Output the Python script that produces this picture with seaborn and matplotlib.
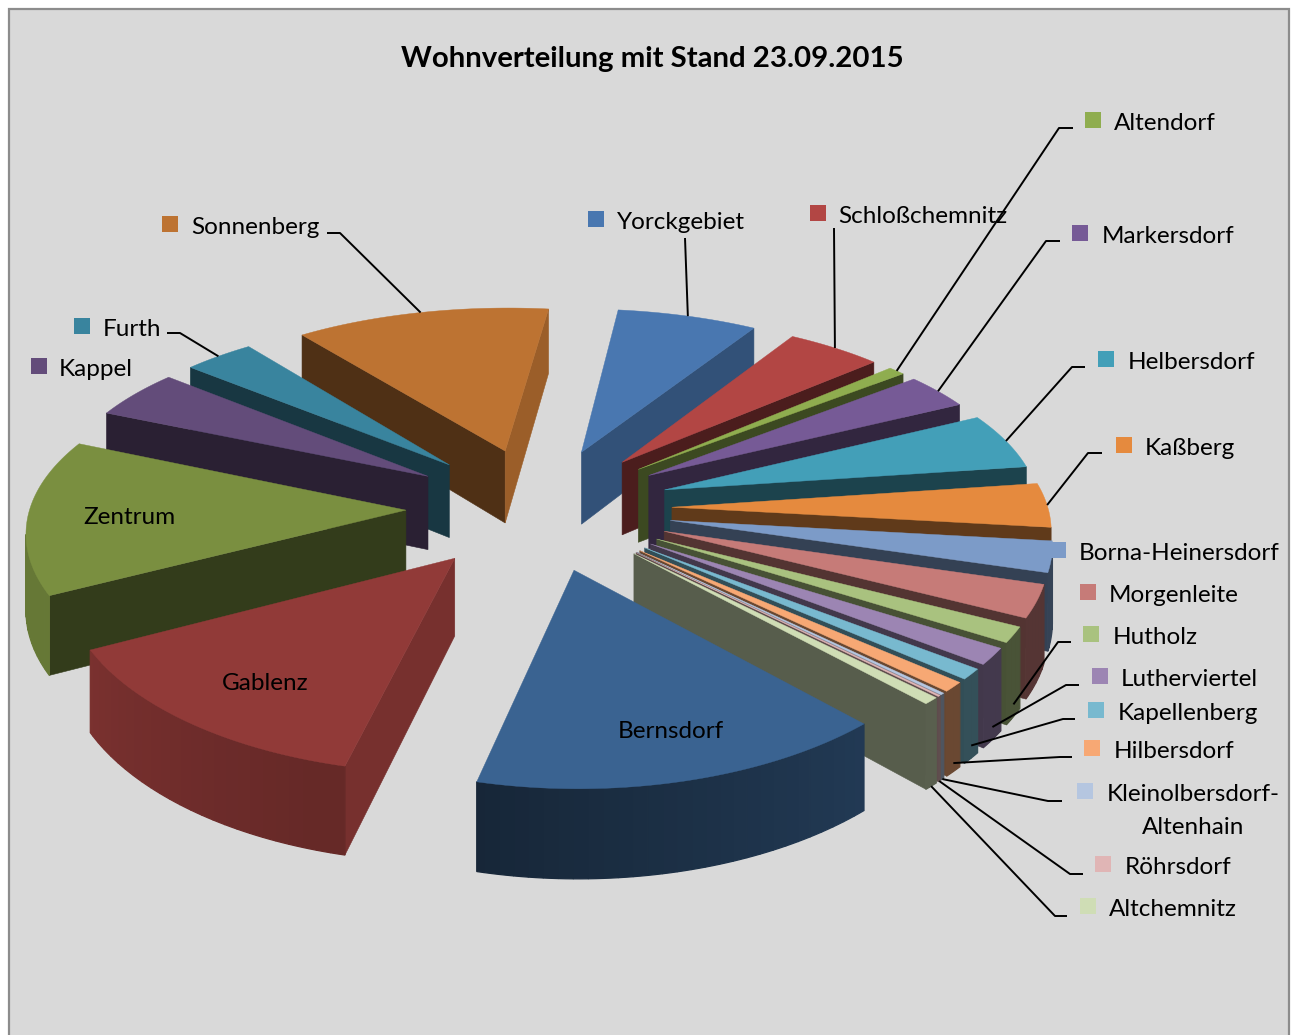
import numpy as np
import matplotlib
matplotlib.use('Agg')
import matplotlib.pyplot as plt
from matplotlib.colors import to_rgb
from matplotlib.patches import Rectangle
import seaborn as sns

# Werte aus dem Bild geschaetzt (Anteil in %), im Uhrzeigersinn ab oben
names = ['Yorckgebiet', 'Schloßchemnitz', 'Altendorf', 'Markersdorf', 'Helbersdorf', 'Kaßberg',
         'Borna-Heinersdorf', 'Morgenleite', 'Hutholz', 'Lutherviertel', 'Kapellenberg', 'Hilbersdorf',
         'Kleinolbersdorf-\nAltenhain', 'Röhrsdorf', 'Altchemnitz', 'Bernsdorf', 'Gablenz', 'Zentrum',
         'Kappel', 'Furth', 'Sonnenberg']
values = [6.81, 4.67, 0.83, 3.31, 5.22, 4.03, 2.78, 2.92, 1.39, 1.47, 0.94, 0.86, 0.17, 0.11, 0.61,
          15.69, 13.61, 14.17, 4.58, 3.47, 12.36]
colors = ['#4977B0', '#B24644', '#8FAD4F', '#765A96', '#439FB8', '#E58A3E', '#7C9BC8', '#C67B78',
          '#A9C27F', '#9C85B3', '#78B9CF', '#F7A874', '#B5C6E0', '#E0B5B5', '#CFDDB5', '#3A6391',
          '#913A38', '#7A8F40', '#634C7A', '#39849E', '#BD7332']

# Beschriftung: Position des Kaestchens, Textanfang, Leader-Knick
key_pos = [(596, 219), (818, 213), (1093, 120), (1080, 233), (1106, 359), (1124, 445), (1058, 550),
           (1088, 592), (1091, 634), (1100, 676), (1096, 710), (1092, 748), (1085, 791), (1103, 864),
           (1088, 906), (597, 728), (205, 680), (62, 514), (39, 366), (82, 326), (170, 224)]
text_x = [617, 838, 1114, 1102, 1128, 1145, 1079, 1109, 1113, 1121, 1118, 1114, 1107, 1125, 1109, 618, 222,
          83, 59, 103, 191]
leaders = {0: [(685, 238)], 1: [(834, 228)], 2: [(1059, 128), (1073, 128)], 3: [(1046, 241), (1060, 241)],
           4: [(1072, 367), (1085, 367)], 5: [(1088, 453), (1102, 453)], 8: [(1058, 642), (1071, 642)],
           9: [(1066, 685), (1079, 685)], 10: [(1063, 719), (1075, 719)], 11: [(1060, 757), (1072, 757)],
           12: [(1048, 801), (1062, 801)], 13: [(1070, 874), (1083, 874)], 14: [(1055, 916), (1067, 916)],
           19: [(180, 333), (167, 333)], 20: [(340, 233), (327, 233)]}
leader_depth = {8: 0.85, 9: 0.85, 10: 0.85, 11: 0.9, 12: 1.0, 13: 1.0, 14: 1.0}

START = 7.0
CX, CY = 539, 508
R = 376
SQUASH = 0.463
PERSP_X = 0.10
PERSP_Y = 0.125
EXPLODE = 133
DEPTH = 75

sns.set_theme(style='white')
plt.rcParams['font.family'] = ['Lato', 'DejaVu Sans']


def project(x, y, z):
    fx = 1 / (1 + PERSP_X * y / R)
    fy = 1 / (1 + PERSP_Y * y / R)
    return CX + x * fx, CY - (y * SQUASH + z) * fy


def shade(col, k):
    return tuple(c * k for c in to_rgb(col))


def is_front(poly):
    p = np.array(poly)
    q = np.roll(p, -1, axis=0)
    return (p[:, 0] * q[:, 1] - q[:, 0] * p[:, 1]).sum() < 0


fig = plt.figure(figsize=(12.91, 10.35), dpi=100)
ax = fig.add_axes([0, 0, 1, 1])
ax.set_xlim(0, 1291)
ax.set_ylim(1035, 0)
ax.axis('off')
ax.add_patch(Rectangle((8.5, 9), 1280, 1040, facecolor='#D9D9D9', edgecolor='#8C8C8C', lw=1.6, zorder=0))

edges = START + np.cumsum([0] + values) / sum(values) * 360
wedges = []
for i in range(len(values)):
    a0, a1 = edges[i], edges[i + 1]
    wedges.append((i, a0, a1, (a0 + a1) / 2))
# von hinten nach vorne zeichnen
wedges.sort(key=lambda w: -np.cos(np.radians(w[3])))

mids = {}
z = 2
for i, a0, a1, mid in wedges:
    ox = EXPLODE * np.sin(np.radians(mid))
    oy = EXPLODE * np.cos(np.radians(mid))
    mids[i] = (ox, oy, mid)
    fine = np.radians(np.linspace(a0, a1, max(2, int(a1 - a0) + 2)))
    top = [project(ox + R * np.sin(a), oy + R * np.cos(a), 0) for a in fine]
    bot = [project(ox + R * np.sin(a), oy + R * np.cos(a), -DEPTH) for a in fine]
    apex_t = project(ox, oy, 0)
    apex_b = project(ox, oy, -DEPTH)

    # Seitenwaende
    wall0 = [apex_t, top[0], bot[0], apex_b]
    wall1 = [top[-1], apex_t, apex_b, bot[-1]]
    n0 = (a0 - 90) % 360
    n1 = (a1 + 90) % 360
    for wall, n in ((wall0, n0), (wall1, n1)):
        if is_front(wall):
            if 60 < n < 110:
                k = 0.82
            elif n < 130:
                k = 0.68
            else:
                k = 0.42
            xs, ys = zip(*wall)
            ax.fill(xs, ys, color=shade(colors[i], k), lw=0.4, zorder=z)

    # Aussenkante in Streifen, links heller
    step = 2
    for j in range(0, len(fine) - 1, step):
        j2 = min(j + step, len(fine) - 1)
        strip = top[j:j2 + 1] + bot[j:j2 + 1][::-1]
        if is_front([top[j], top[j2], bot[j2], bot[j]]):
            a = np.degrees(fine[j]) % 360
            if mid < 140:
                k = 0.43
            elif mid < 190:
                k = 0.38 + 0.2 * (195 - a) / 58
            else:
                k = 0.7 + 0.14 * min(1, max(0, a - 196) / 46)
            xs, ys = zip(*strip)
            ax.fill(xs, ys, color=shade(colors[i], k), lw=0.9, zorder=z)

    xs, ys = zip(*([apex_t] + top))
    ax.fill(xs, ys, color=colors[i], lw=0.3, zorder=z + 0.5)
    z += 1

# Leader-Linien
for i, pts in leaders.items():
    ox, oy, mid = mids[i]
    a = np.radians(mid)
    zf = leader_depth.get(i, 0)
    start = project(ox + R * np.sin(a), oy + R * np.cos(a), -DEPTH * zf)
    xs, ys = zip(*([start] + pts))
    ax.plot(xs, ys, color='black', lw=1.4, zorder=60, solid_capstyle='butt')

# Legendenkaestchen und Texte
for i, name in enumerate(names):
    kx, ky = key_pos[i]
    ax.scatter([kx], [ky], marker='s', s=117, color=colors[i], linewidths=0, zorder=61)
    if '\n' in name:
        first, second = name.split('\n')
        ax.text(text_x[i], ky + 3.5, first, fontsize=17.5, color='black', va='center', zorder=62)
        ax.text(1193, ky + 36, second, fontsize=17.5, color='black', va='center', ha='center', zorder=62)
    else:
        ax.text(text_x[i], ky + 3.5, name, fontsize=17.5, color='black', va='center', zorder=62)

ax.text(652.5, 59, 'Wohnverteilung mit Stand 23.09.2015', fontsize=21.2, fontweight='bold',
        color='black', ha='center', va='center', zorder=62)

fig.savefig('out.png', dpi=100)
